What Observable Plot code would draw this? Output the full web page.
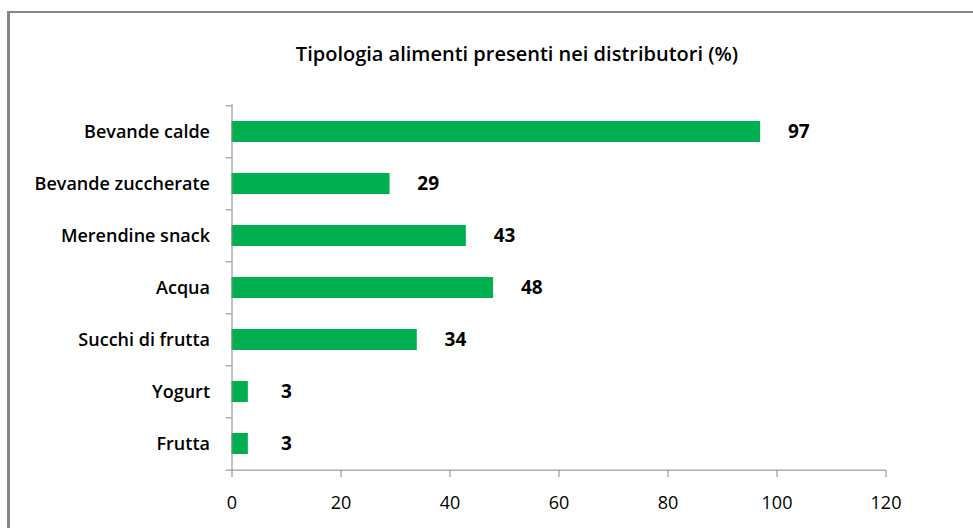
<!DOCTYPE html>
<html>
<head>
<meta charset="utf-8">
<script src="https://cdn.jsdelivr.net/npm/d3@7"></script>
<script src="https://cdn.jsdelivr.net/npm/@observablehq/plot@0.6"></script>
<style>
  html, body { margin: 0; padding: 0; background: #fff; overflow: hidden; }
  #wrap { position: relative; width: 973px; height: 528px; }
  #frame { position: absolute; left: 7px; top: 11px; width: 1200px; height: 800px;
           border-left: 3px solid #868686; border-top: 2px solid #868686; box-sizing: border-box; }
  #title { position: absolute; left: 0; top: 0; width: 973px; height: 80px; }
  #title div { position: absolute; left: 217px; width: 600px; top: 40px; text-align: center;
               font-family: "Open Sans", Lato, sans-serif; font-weight: 600; font-size: 20px; color: #000; }
  #chart { position: absolute; left: 0; top: 80px; }
</style>
</head>
<body>
<div id="wrap">
  <div id="frame"></div>
  <div id="title"><div>Tipologia alimenti presenti nei distributori (%)</div></div>
  <div id="chart"></div>
</div>
<script>
const categories = ["Bevande calde", "Bevande zuccherate", "Merendine snack", "Acqua", "Succhi di frutta", "Yogurt", "Frutta"];
const values = [97, 29, 43, 48, 34, 3, 3];
const xTicks = [0, 20, 40, 60, 80, 100, 120];

const data = categories.map((c, i) => ({category: c, value: values[i]}));

const W = 973, H = 448;
const mTop = 24, mBottom = 58;
const step = (H - mTop - mBottom) / categories.length;
const tickLen = 6 / ((885.5 - 231.5) / 120);
const axisColor = "#868686";
const font = "'Open Sans', Lato, sans-serif";

const plot = Plot.plot({
  width: W,
  height: H,
  marginLeft: 231.5,
  marginRight: 87.5,
  marginTop: mTop,
  marginBottom: mBottom,
  style: {fontFamily: font, background: "transparent", overflow: "visible"},
  x: {domain: [0, 120], ticks: xTicks, label: null},
  y: {domain: categories, paddingInner: 0.6, paddingOuter: 0.3, label: null},
  marks: [
    Plot.barX(data, {y: "category", x: "value", fill: "#00B050"}),
    // y axis line
    Plot.ruleX([0], {stroke: axisColor, strokeWidth: 1}),
    // band boundary ticks on y axis
    Plot.ruleY(data, {y: "category", x1: -tickLen, x2: 0, dy: -step / 2, stroke: axisColor}),
    // x axis line
    Plot.ruleY([0], {y: () => categories[categories.length - 1], x1: -tickLen, x2: 120, dy: step / 2, stroke: axisColor}),
    Plot.axisX({ticks: xTicks, tickSize: 7, tickPadding: 19, stroke: axisColor, fill: "#000",
                fontSize: 18, tickFormat: d => String(d)}),
    Plot.axisY({tickSize: 0, tickPadding: 22, fill: "#000", fontSize: 18, fontWeight: 600,
                fontFamily: font}),
    Plot.text(data, {y: "category", x: d => d.value + 7, text: d => String(d.value),
                     fontWeight: 700, fontSize: 19, fill: "#000", textAnchor: "middle"})
  ]
});
document.getElementById("chart").appendChild(plot);
</script>
</body>
</html>
